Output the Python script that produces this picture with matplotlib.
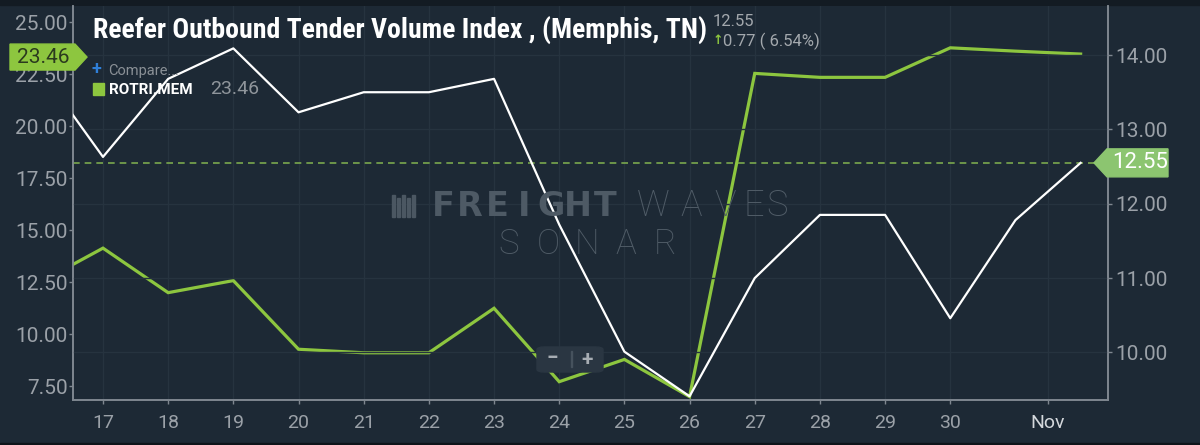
import matplotlib
matplotlib.use("Agg")
import matplotlib.pyplot as plt
from matplotlib.patches import Polygon, FancyBboxPatch, Rectangle
from matplotlib.transforms import IdentityTransform

plt.rcParams['font.family'] = ['Roboto', 'DejaVu Sans']

# day of month (32 = Nov 1); day 16 sits just outside the left edge
days = [16, 17, 18, 19, 20, 21, 22, 23, 24, 25, 26, 27, 28, 29, 30, 31, 32]
rotri = [12.43, 14.13, 11.99, 12.57, 9.27, 9.10, 9.10, 11.24, 7.71, 8.78, 6.99,
         22.53, 22.34, 22.34, 23.76, 23.60, 23.46]
rotvi = [13.85, 12.63, 13.68, 14.09, 13.23, 13.50, 13.50, 13.68, 11.72, 10.01, 9.41,
         11.00, 11.85, 11.85, 10.46, 11.78, 12.55]
tick_pos = [17, 18, 19, 20, 21, 22, 23, 24, 25, 26, 27, 28, 29, 30, 31.5]
tick_lab = ["17", "18", "19", "20", "21", "22", "23", "24", "25", "26", "27", "28", "29", "30", "Nov"]
left_ticks = [7.5, 10, 12.5, 15, 17.5, 20, 22.5, 25]
right_ticks = [10, 11, 12, 13, 14]

bg = "#1d2935"
green = "#8dc63f"
tick_col = "#9ba1a8"
spine_col = "#7f8790"
grid_col = "#26333f"

fig = plt.figure(figsize=(12, 4.45), dpi=100, facecolor=bg)
ax = fig.add_axes([73 / 1200, 1 - 400 / 445, (1108 - 73) / 1200, 394 / 445])
ax.set_facecolor(bg)
ax2 = ax.twinx()

ax.plot(days, rotri, color=green, lw=2.3, zorder=3, solid_joinstyle='miter')
ax2.plot(days, rotvi, color="white", lw=1.6, zorder=3)
ax2.axhline(rotvi[-1], color="#7aa84e", lw=1.2, dashes=(4, 3), zorder=2)

ax.set_xlim(16.54, 32.42)
ax.set_ylim(6.83, 25.77)
ax2.set_ylim(9.36, 14.66)

ax.set_xticks(tick_pos)
ax.set_xticklabels(tick_lab)
ax.set_yticks(left_ticks)
ax.set_yticklabels([f"{v:.2f}" for v in left_ticks])
ax2.set_yticks(right_ticks)
ax2.set_yticklabels([f"{v:.2f}" for v in right_ticks])

ax.grid(axis='x', color=grid_col, lw=1)
ax2.grid(axis='y', color=grid_col, lw=1)
ax.set_axisbelow(True)
ax2.set_axisbelow(True)

for a in (ax, ax2):
    for s in a.spines.values():
        s.set_color(spine_col)
        s.set_linewidth(1.2)
    a.spines['top'].set_visible(False)
    a.tick_params(colors=spine_col, length=3, width=1, labelcolor=tick_col, labelsize=15)
ax.tick_params(axis='x', pad=7, labelsize=14)
ax.tick_params(axis='y', pad=1)
ax2.tick_params(axis='y', pad=2)
ax.get_xticklabels()[-1].set_color("#d4d8dc")

# top / bottom dark strips
fig.add_artist(Rectangle((0, 1 - 5 / 445), 1, 5 / 445, transform=fig.transFigure,
                         color="#131b23", zorder=0))
fig.add_artist(Rectangle((0, 0), 1, 2 / 445, transform=fig.transFigure,
                         color="#0e141a", zorder=0))

# title and legend
fig.text(93 / 1200, 1 - 30 / 445, "Reefer Outbound Tender Volume Index , (Memphis, TN)",
         family=['Roboto Condensed', 'Liberation Sans Narrow', 'Roboto'], weight='bold',
         color="white", fontsize=20, va='center', ha='left')
fig.text(713 / 1200, 1 - 22 / 445, f"{rotvi[-1]:.2f}", color="#a3a8ad", fontsize=12,
         va='center', ha='left')
chg = rotvi[-1] - rotvi[-2]
fig.text(713 / 1200, 1 - 41 / 445, "\u2191", color=green, fontsize=9, weight='bold',
         va='center', ha='left', family=['DejaVu Sans'])
fig.text(723 / 1200, 1 - 41 / 445, f"{chg:.2f} ( {chg / rotvi[-2] * 100:.2f}%)",
         color="#a3a8ad", fontsize=12, va='center', ha='left')
fig.text(92 / 1200, 1 - 69 / 445, "+", color="#2f7fd8", fontsize=13, weight='bold',
         va='center', ha='left')
fig.text(108 / 1200, 1 - 71 / 445, "Compare...", color="#8a9096", fontsize=10.5,
         va='center', ha='left')
fig.add_artist(Rectangle((93 / 1200, 1 - 95 / 445), 11 / 1200, 12 / 445,
                         transform=fig.transFigure, color=green))
fig.text(109 / 1200, 1 - 89.5 / 445, "ROTRI.MEM", color="white", fontsize=11,
         weight='bold', va='center', ha='left')
fig.text(210 / 1200, 1 - 89 / 445, f"{rotri[-1]:.2f}", color="#8f959b", fontsize=14,
         va='center', ha='left')

# watermark
wm = "#505c67"
for i, ch in enumerate("FREIGHT"):
    fig.text((443 + 27 * i) / 1200, 1 - 206 / 445, ch, color="#4e5a65", fontsize=24,
             weight='heavy', family=['DejaVu Sans'], va='center', ha='center', zorder=1)
for cx, ch in zip([653, 691, 725, 754, 777], "WAVES"):
    fig.text(cx / 1200, 1 - 206 / 445, ch, color=wm, fontsize=26, weight='light',
             family=['Roboto'], va='center', ha='center', zorder=1)
for i, ch in enumerate("SONAR"):
    fig.text((509 + 39 * i) / 1200, 1 - 244 / 445, ch, color=wm, fontsize=25,
             weight='light', family=['Roboto'], va='center', ha='center', zorder=1)
for i in range(5):
    fig.add_artist(Rectangle(((392 + 5 * i) / 1200, 1 - 217 / 445), 3 / 1200,
                             (22 - 3 * (i % 2)) / 445, transform=fig.transFigure,
                             color="#4b5762", zorder=1))

# zoom control
fig.add_artist(FancyBboxPatch((537 / 1200, 1 - 372 / 445), 66 / 1200, 25 / 445,
                              boxstyle="round,pad=0,rounding_size=0.006",
                              transform=fig.transFigure, color="#2a3642", zorder=5))
fig.text(552 / 1200, 1 - 359 / 445, "\u2212", color="#a7adb3", fontsize=15, weight='bold',
         va='center', ha='center', zorder=6)
fig.text(587 / 1200, 1 - 359 / 445, "+", color="#a7adb3", fontsize=15, weight='bold',
         va='center', ha='center', zorder=6)
fig.add_artist(Rectangle((570.5 / 1200, 1 - 367 / 445), 1 / 1200, 16 / 445,
                         transform=fig.transFigure, color="#46525d", zorder=6))

# last-value tags
yl = ax.transData.transform((days[-1], rotri[-1]))[1] - 3
fig.add_artist(Polygon([(10, yl - 13), (75, yl - 13), (87, yl), (75, yl + 13), (10, yl + 13)],
                       closed=True, transform=IdentityTransform(), color=green, zorder=7))
fig.text(43 / 1200, yl / 445, f"{rotri[-1]:.2f}", color="#2b3a1e", fontsize=15,
         va='center', ha='center', zorder=8)
yr = ax2.transData.transform((days[-1], rotvi[-1]))[1]
fig.add_artist(Polygon([(1094, yr), (1107, yr + 14), (1168, yr + 14), (1168, yr - 14), (1107, yr - 14)],
                       closed=True, transform=IdentityTransform(), color="#8cc570", zorder=7))
fig.text(1140 / 1200, yr / 445, f"{rotvi[-1]:.2f}", color="white", fontsize=16,
         va='center', ha='center', zorder=8)

fig.savefig("out.png", dpi=100, facecolor=bg)
